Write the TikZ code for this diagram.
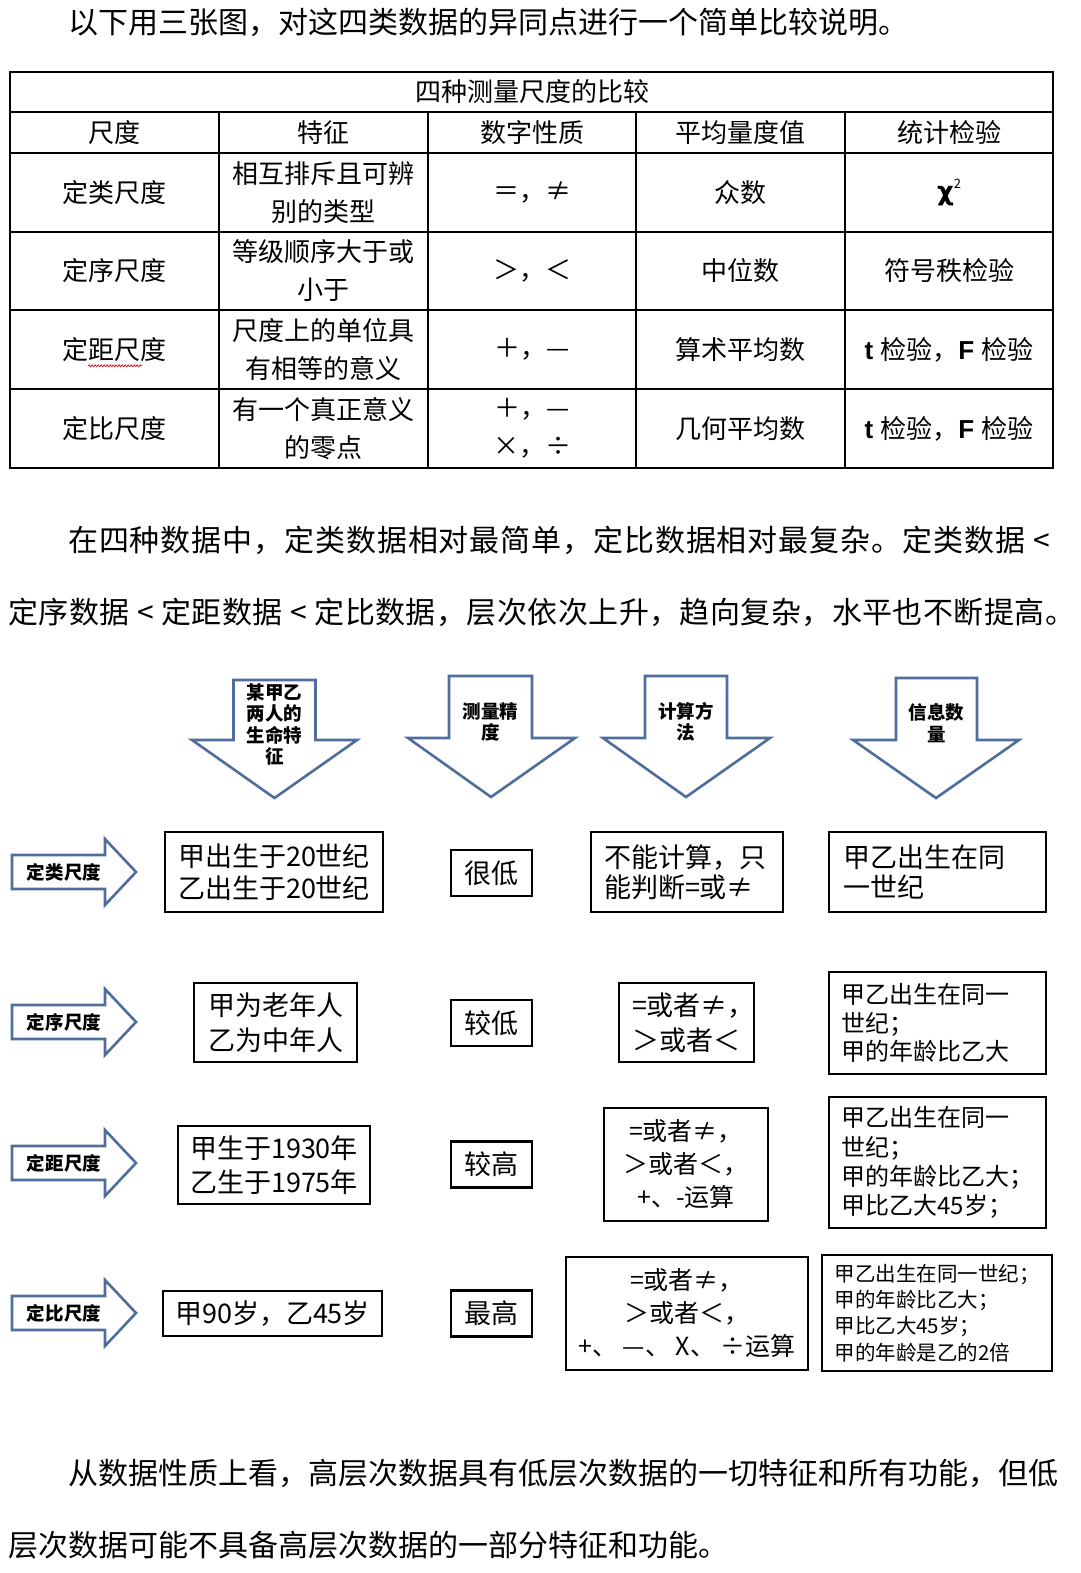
\documentclass[tikz,border=0pt]{standalone}
\usepackage{fontspec}
\setmainfont{Noto Sans CJK SC}
\newfontfamily\dvs{DejaVu Sans}
\newfontfamily\lsans{Liberation Sans}
\usetikzlibrary{decorations.pathmorphing}
\makeatletter
\newcommand\spreadline[3]{\hbox to #1{#2\@tfor\sp@ch:=#3\do{\hfil\sp@ch}}}
\makeatother
\newcommand\fsz[2]{\fontsize{#1pt}{#2pt}\selectfont}
\definecolor{arrowblue}{RGB}{79,110,155}
\tikzset{
  tline/.style={line width=1.9pt},
  bx/.style={draw=black, line width=2.8pt, inner xsep=0pt, inner ysep=0pt, align=center},
  lbx/.style={draw=black, line width=2.8pt, inner ysep=0pt, align=left},
  barrow/.style={draw=arrowblue, line width=2.6pt, fill=white, line join=miter},
  alabel/.style={font=\fsz{18.5}{21.5}\bfseries, align=center, inner sep=0pt},
  tcell/.style={font=\fsz{26}{38}, align=center, inner sep=0pt},
  para/.style={anchor=west, inner sep=0pt}
}
\begin{document}
\begin{tikzpicture}[x=1pt,y=-1pt]
\useasboundingbox[fill=white] (0,0) rectangle (1080,1573);

% ---------- top sentence
\node[para, font=\fsz{30}{35}] (t0) at (68,22) {以下用三张图，对这四类数据的异同点进行一个简单比较说明。};

% ---------- table
\draw[tline] (10,72) rectangle (1053,468);
\foreach \yy in {112,153,232,310,389} \draw[tline] (10,\yy) -- (1053,\yy);
\foreach \xx in {219,428,636,845} \draw[tline] (\xx,112) -- (\xx,468);

\node[tcell] (title) at (532,92) {四种测量尺度的比较};
\node[tcell] (h1) at (114.5,132.5) {尺度};
\node[tcell] (h2) at (323.5,132.5) {特征};
\node[tcell] (h3) at (532,132.5) {数字性质};
\node[tcell] (h4) at (740.5,132.5) {平均量度值};
\node[tcell] (h5) at (949,132.5) {统计检验};

\node[tcell] (r1c1) at (114.5,192.5) {定类尺度};
\node[tcell] (r1c2) at (323.5,192.5) {相互排斥且可辨\\别的类型};
\node[tcell] (r1c3) at (532,192.5) {＝，≠};
\node[tcell] (r1c4) at (740.5,192.5) {众数};
\node[tcell] (r1c5) at (949,192.5) {{\dvs\bfseries χ}\raisebox{0.9ex}{\fsz{13}{13}2}};

\node[tcell] (r2c1) at (114.5,271) {定序尺度};
\node[tcell] (r2c2) at (323.5,271) {等级顺序大于或\\小于};
\node[tcell] (r2c3) at (532,271) {＞，＜};
\node[tcell] (r2c4) at (740.5,271) {中位数};
\node[tcell] (r2c5) at (949,271) {符号秩检验};

\node[tcell] (r3c1) at (114.5,349.5) {定距尺度};
\node[tcell] (r3c2) at (323.5,349.5) {尺度上的单位具\\有相等的意义};
\node[tcell] (r3c3) at (532,349.5) {＋，—};
\node[tcell] (r3c4) at (740.5,349.5) {算术平均数};
\node[tcell] (r3c5) at (949,349.5) {{\lsans\bfseries t}\hspace{7pt}检验，{\lsans\bfseries F}\hspace{7pt}检验};
\draw[red!85!black, line width=0.7pt, decorate, decoration={snake, amplitude=0.9pt, segment length=3pt}] (r3c1.south west) ++(26,4) coordinate (sq1) -- ++(54,0) coordinate (sq2);

\node[tcell] (r4c1) at (114.5,428.5) {定比尺度};
\node[tcell] (r4c2) at (323.5,428.5) {有一个真正意义\\的零点};
\node[tcell] (r4c3) at (532,428.5) {＋，—\\×，÷};
\node[tcell] (r4c4) at (740.5,428.5) {几何平均数};
\node[tcell] (r4c5) at (949,428.5) {{\lsans\bfseries t}\hspace{7pt}检验，{\lsans\bfseries F}\hspace{7pt}检验};

% ---------- paragraph 2
\node[para, font=\fsz{30}{36}] (p1) at (68,540) {\spreadline{982pt}{在}{四种数据中，定类数据相对最简单，定比数据相对最复杂。定类数据~<}};
\node[para, font=\fsz{30}{36}] (p2) at (8,612) {\spreadline{1067pt}{定}{序数据~<~定距数据~<~定比数据，层次依次上升，趋向复杂，水平也不断提高。}};

% ---------- down arrows
\draw[barrow] (233.5,680) -- (315.5,680) -- (315.5,740) -- (357,740) -- (274.5,798) -- (192,740) -- (233.5,740) -- cycle;
\draw[barrow] (449,676) -- (532,676) -- (532,738) -- (575,738) -- (491,797) -- (408,738) -- (449,738) -- cycle;
\draw[barrow] (645,676) -- (727,676) -- (727,738) -- (770,738) -- (686,797) -- (603,738) -- (645,738) -- cycle;
\draw[barrow] (896,678) -- (977,678) -- (977,740) -- (1019,740) -- (936,798) -- (853,740) -- (896,740) -- cycle;
\node[alabel] (d1) at (274.5,724.5) {某甲乙\\两人的\\生命特\\征};
\node[alabel] (d2) at (490.5,722) {测量精\\度};
\node[alabel] (d3) at (686,722) {计算方\\法};
\node[alabel] (d4) at (936.5,723) {信息数\\量};

% ---------- right arrows
\foreach \yy/\lab/\nm in {872/定类尺度/s1, 1022/定序尺度/s2, 1163/定距尺度/s3, 1313/定比尺度/s4}{
  \draw[barrow] (12,\yy-17) -- (105,\yy-17) -- (105,\yy-33) -- (136,\yy) -- (105,\yy+33) -- (105,\yy+17) -- (12,\yy+17) -- cycle;
  \node[alabel] (\nm) at (64,\yy) {\lab};
}

% ---------- column A
\node[bx, font=\fsz{27}{32}, minimum width=218, minimum height=80] (a1) at (274,872) {甲出生于20世纪\\乙出生于20世纪};
\node[bx, font=\fsz{27}{35}, minimum width=163, minimum height=79] (a2) at (275.5,1022.5) {甲为老年人\\乙为中年人};
\node[bx, font=\fsz{27}{34}, minimum width=192, minimum height=78] (a3) at (274,1165) {甲生于1930年\\乙生于1975年};
\node[bx, font=\fsz{27}{32}, minimum width=219, minimum height=45] (a4) at (272.5,1313.5) {甲90岁，乙45岁};

% ---------- column B
\node[bx, font=\fsz{27}{32}, minimum width=81, minimum height=46] (b1) at (491.5,873) {很低};
\node[bx, font=\fsz{27}{32}, minimum width=81, minimum height=46] (b2) at (491.5,1023) {较低};
\node[bx, font=\fsz{27}{32}, minimum width=81, minimum height=46] (b3) at (491.5,1164.5) {较高};
\node[bx, font=\fsz{27}{32}, minimum width=81, minimum height=46] (b4) at (491.5,1313.5) {最高};

% ---------- column C
\node[lbx, font=\fsz{27}{30}, text width=166, inner xsep=13, minimum height=80] (c1) at (687,872) {不能计算，只\\能判断=或≠};
\node[lbx, font=\fsz{27}{35}, text width=109, inner xsep=13, minimum height=79] (c2) at (686.5,1022.5) {=或者≠，\\＞或者＜};
\node[bx, font=\fsz{25}{33}, minimum width=164, minimum height=113] (c3) at (686,1164.5) {=或者≠，\\＞或者＜，\\+、-运算};
\node[bx, font=\fsz{25}{33}, minimum width=242, minimum height=113] (c4) at (687,1313.5) {=或者≠，\\＞或者＜，\\+、 —、 X、 ÷运算};

% ---------- column D
\node[lbx, font=\fsz{27}{30}, text width=189, inner xsep=14, minimum height=80] (e1) at (937.5,872) {甲乙出生在同\\一世纪};
\node[lbx, font=\fsz{24}{28.5}, text width=192, inner xsep=12.5, minimum height=102] (e2) at (937.5,1023) {甲乙出生在同一\\世纪；\\甲的年龄比乙大};
\node[lbx, font=\fsz{24}{29.3}, text width=192, inner xsep=12.5, minimum height=131] (e3) at (937.5,1162.5) {甲乙出生在同一\\世纪；\\甲的年龄比乙大；\\甲比乙大45岁；};
\node[lbx, font=\fsz{20.5}{26.3}, text width=205, inner xsep=12.5, minimum height=116] (e4) at (937,1313) {甲乙出生在同一世纪；\\甲的年龄比乙大；\\甲比乙大45岁；\\甲的年龄是乙的2倍};

% ---------- bottom paragraph
\node[para, font=\fsz{30}{36}] (p3) at (68,1473) {\spreadline{989pt}{从}{数据性质上看，高层次数据具有低层次数据的一切特征和所有功能，但低}};
\node[para, font=\fsz{30}{36}] (p4) at (8,1545) {层次数据可能不具备高层次数据的一部分特征和功能。};
\end{tikzpicture}
\end{document}
